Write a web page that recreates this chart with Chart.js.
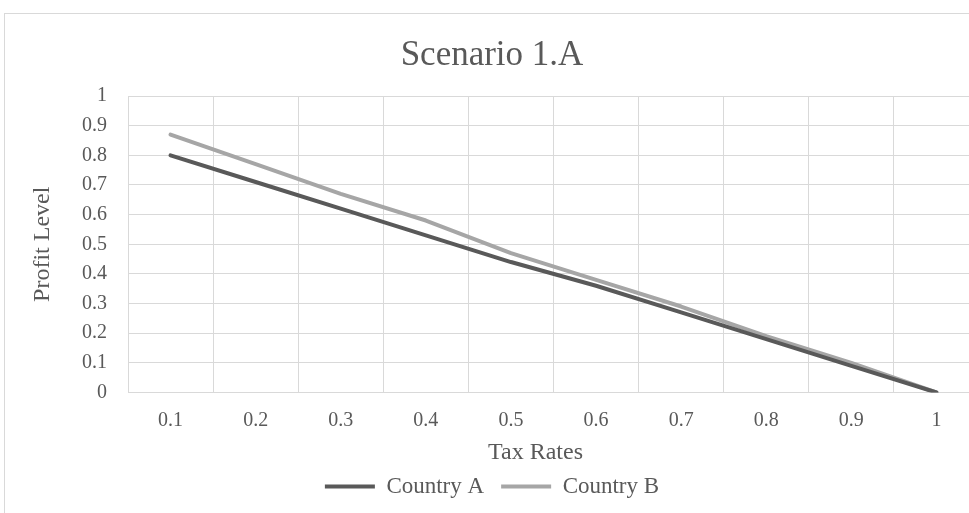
<!DOCTYPE html>
<html>
<head>
<meta charset="utf-8">
<script src="https://cdn.jsdelivr.net/npm/chart.js@4.4.1/dist/chart.umd.min.js"></script>
<style>
  html, body { margin: 0; padding: 0; background: #ffffff; overflow: hidden; width: 969px; height: 513px; }
  #frame { position: absolute; left: 4px; top: 13px; width: 978px; height: 520px; border: 1px solid #d9d9d9; background: #fff; }
  #wrap { position: absolute; left: 0; top: 0; width: 978px; height: 500px; }
</style>
</head>
<body>
<div id="frame"><div id="wrap"><canvas id="c" width="978" height="500"></canvas></div></div>
<script>
const categories = ['0.1', '0.2', '0.3', '0.4', '0.5', '0.6', '0.7', '0.8', '0.9', '1'];
const countryA = [0.80, 0.71, 0.62, 0.53, 0.44, 0.36, 0.27, 0.18, 0.09, 0];
const countryB = [0.87, 0.77, 0.67, 0.58, 0.47, 0.38, 0.29, 0.19, 0.10, 0];
const seriesNames = ['Country A', 'Country B'];
const chartTitle = 'Scenario 1.A';
const xTitle = 'Tax Rates';
const yTitle = 'Profit Level';

const TXT = '#595959';
const GRID = '#d9d9d9';
const SERIF = '"Liberation Serif", "Times New Roman", serif';

new Chart(document.getElementById('c'), {
  type: 'line',
  data: {
    labels: categories,
    datasets: [
      { label: seriesNames[0], data: countryA, borderColor: '#595959', backgroundColor: '#595959',
        borderWidth: 4, pointRadius: 0, tension: 0, borderCapStyle: 'round', borderJoinStyle: 'round' },
      { label: seriesNames[1], data: countryB, borderColor: '#a6a6a6', backgroundColor: '#a6a6a6',
        borderWidth: 4, pointRadius: 0, tension: 0, borderCapStyle: 'round', borderJoinStyle: 'round' }
    ]
  },
  options: {
    responsive: false,
    animation: false,
    layout: { padding: { left: 0, right: 4, top: 0, bottom: 6 } },
    plugins: {
      title: {
        display: true, text: chartTitle, color: TXT,
        font: { family: SERIF, size: 35, weight: 'normal' },
        padding: { top: 21, bottom: 19 }
      },
      legend: {
        display: true, position: 'bottom',
        labels: {
          color: TXT, font: { family: SERIF, size: 23 },
          boxWidth: 50, boxHeight: 4, padding: 17,
          generateLabels(chart) {
            return Chart.defaults.plugins.legend.labels.generateLabels(chart).map(l => Object.assign(l, { lineWidth: 0, strokeStyle: 'rgba(0,0,0,0)' }));
          }
        }
      },
      tooltip: { enabled: false }
    },
    scales: {
      x: {
        type: 'category',
        offset: true,
        grid: { color: GRID, lineWidth: 1, offset: true, drawTicks: false },
        border: { display: true, color: GRID },
        ticks: { color: TXT, font: { family: SERIF, size: 20 }, padding: 16, maxRotation: 0 },
        title: { display: true, text: xTitle + '      ', color: TXT, font: { family: SERIF, size: 24 }, padding: { top: 0, bottom: -9 } },
        afterFit(s) { s.height = 65.5; }
      },
      y: {
        min: 0, max: 1,
        grid: { color: GRID, lineWidth: 1, drawTicks: false },
        border: { display: true, color: GRID },
        ticks: {
          stepSize: 0.1, color: TXT, font: { family: SERIF, size: 20 }, padding: 21,
          callback: v => String(Number(v.toFixed(1)))
        },
        title: { display: true, text: yTitle, color: TXT, font: { family: SERIF, size: 24 }, padding: { top: 23, bottom: 0 } },
        afterFit(s) { s.width = 123; }
      }
    }
  }
});
</script>
</body>
</html>
